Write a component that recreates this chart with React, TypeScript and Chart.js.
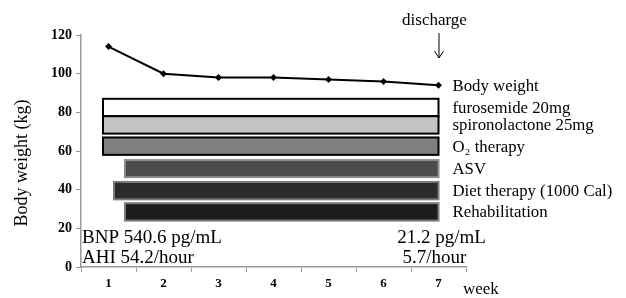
import React, { useEffect, useRef } from "react";
import { Chart, registerables } from "chart.js";

Chart.register(...registerables);

const weeks = ["1", "2", "3", "4", "5", "6", "7"];
const bodyWeight = [114, 100, 98, 98, 97, 96, 94];

const therapyNames = [
  "furosemide 20mg",
  "spironolactone 25mg",
  "O\u2082 therapy",
  "ASV",
  "Diet therapy (1000 Cal)",
  "Rehabilitation",
];
const therapyStartWeek = [0.9, 0.9, 0.9, 1.3, 1.1, 1.3];
const therapyEndWeek = [7, 7, 7, 7, 7, 7];
const therapyTop = [87, 78, 67, 55.3, 44, 33];
const therapyBottom = [78, 69, 58, 46.5, 35, 24];
const therapyFill = ["#ffffff", "#c3c3c3", "#7f7f7f", "#4b4b4b", "#2b2b2b", "#1c1c1c"];
const therapyBorder = ["#000000", "#000000", "#000000", "#8a8a8a", "#7a7a7a", "#7a7a7a"];

const yTicks = [0, 20, 40, 60, 80, 100, 120];

const SERIF = "'Liberation Serif', 'Times New Roman', serif";

const overlayPlugin = {
  id: "overlay",
  beforeDatasetsDraw(chart: any) {
    const ctx = chart.ctx;
    const xs = chart.scales.x;
    const ys = chart.scales.y;
    ctx.save();
    for (let i = 0; i < therapyNames.length; i++) {
      const x0 = xs.getPixelForValue(therapyStartWeek[i] - 1);
      const x1 = xs.getPixelForValue(therapyEndWeek[i] - 1);
      const y0 = ys.getPixelForValue(therapyTop[i]);
      const y1 = ys.getPixelForValue(therapyBottom[i]);
      ctx.fillStyle = therapyFill[i];
      ctx.fillRect(x0, y0, x1 - x0, y1 - y0);
      ctx.strokeStyle = therapyBorder[i];
      ctx.lineWidth = 2;
      ctx.strokeRect(x0, y0, x1 - x0, y1 - y0);
    }
    ctx.restore();
  },
  afterDraw(chart: any) {
    const ctx = chart.ctx;
    const xs = chart.scales.x;
    const ys = chart.scales.y;
    ctx.save();
    ctx.fillStyle = "#000";
    ctx.textBaseline = "middle";
    ctx.textAlign = "left";
    ctx.font = `16.8px ${SERIF}`;
    const labelX = xs.getPixelForValue(6) + 14;
    ctx.fillText("Body weight", labelX, ys.getPixelForValue(bodyWeight[6]) + 1);
    for (let i = 0; i < therapyNames.length; i++) {
      const ym = ys.getPixelForValue((therapyTop[i] + therapyBottom[i]) / 2);
      ctx.fillText(therapyNames[i], labelX, ym + 1);
    }
    // discharge
    const x7 = xs.getPixelForValue(6);
    ctx.textAlign = "center";
    ctx.textBaseline = "alphabetic";
    ctx.font = `17px ${SERIF}`;
    ctx.fillText("discharge", x7 - 4, 25);
    ctx.strokeStyle = "#000";
    ctx.lineWidth = 1;
    ctx.beginPath();
    ctx.moveTo(x7 + 0.5, 33);
    ctx.lineTo(x7 + 0.5, 58);
    ctx.moveTo(x7 - 4, 51);
    ctx.lineTo(x7 + 0.5, 58);
    ctx.lineTo(x7 + 5, 51);
    ctx.stroke();
    // BNP / AHI
    ctx.font = `19px ${SERIF}`;
    ctx.textAlign = "left";
    const left = chart.chartArea.left + 1;
    ctx.fillText("BNP 540.6 pg/mL", left, 243);
    ctx.fillText("AHI 54.2/hour", left, 263);
    ctx.textAlign = "center";
    ctx.fillText("21.2 pg/mL", x7 + 3, 243);
    ctx.fillText("5.7/hour", x7 - 4, 263);
    // week
    ctx.font = `17px ${SERIF}`;
    ctx.textAlign = "left";
    ctx.fillText("week", 463, 294);
    // y title
    ctx.translate(27, 163);
    ctx.rotate(-Math.PI / 2);
    ctx.font = `18px ${SERIF}`;
    ctx.textAlign = "center";
    ctx.fillText("Body weight (kg)", 0, 0);
    ctx.restore();
  },
};

export default function App() {
  const ref = useRef<HTMLCanvasElement>(null);
  useEffect(() => {
    if (!ref.current) return;
    const chart = new Chart(ref.current, {
      type: "line",
      data: {
        labels: weeks,
        datasets: [
          {
            label: "Body weight",
            data: bodyWeight,
            borderColor: "#000",
            backgroundColor: "#000",
            borderWidth: 2,
            pointStyle: "rectRot",
            pointRadius: 3.5,
            pointBorderWidth: 0,
            tension: 0,
          },
        ],
      },
      options: {
        animation: false,
        responsive: false,
        maintainAspectRatio: false,
        layout: { padding: { left: 0, right: 160, top: 35, bottom: 0 } },
        plugins: { legend: { display: false }, tooltip: { enabled: false } },
        scales: {
          x: {
            type: "category",
            offset: true,
            grid: {
              display: true,
              drawOnChartArea: false,
              drawTicks: true,
              tickLength: 5,
              offset: true,
              color: "#9a9a9a",
            },
            border: { color: "#9a9a9a", width: 1.5 },
            ticks: {
              color: "#000",
              font: { family: SERIF, size: 13, weight: "bold" },
              padding: 4,
              maxRotation: 0,
            },
            afterFit(scale: any) {
              scale.height = 31;
            },
          },
          y: {
            min: 0,
            max: 120,
            afterBuildTicks(scale: any) {
              scale.ticks = yTicks.map((v) => ({ value: v }));
            },
            grid: {
              display: true,
              drawOnChartArea: false,
              drawTicks: true,
              tickLength: 5,
              color: "#9a9a9a",
            },
            border: { color: "#9a9a9a", width: 1.5 },
            ticks: {
              color: "#000",
              font: { family: SERIF, size: 14, weight: "bold" },
              padding: 4,
            },
            afterFit(scale: any) {
              scale.width = 81;
            },
          },
        },
      },
      plugins: [overlayPlugin],
    });
    return () => chart.destroy();
  }, []);
  return (
    <div style={{ position: "absolute", left: 0, top: 0, width: 626, height: 298, background: "#fff" }}>
      <canvas ref={ref} width={626} height={298} style={{ width: 626, height: 298 }} />
    </div>
  );
}
